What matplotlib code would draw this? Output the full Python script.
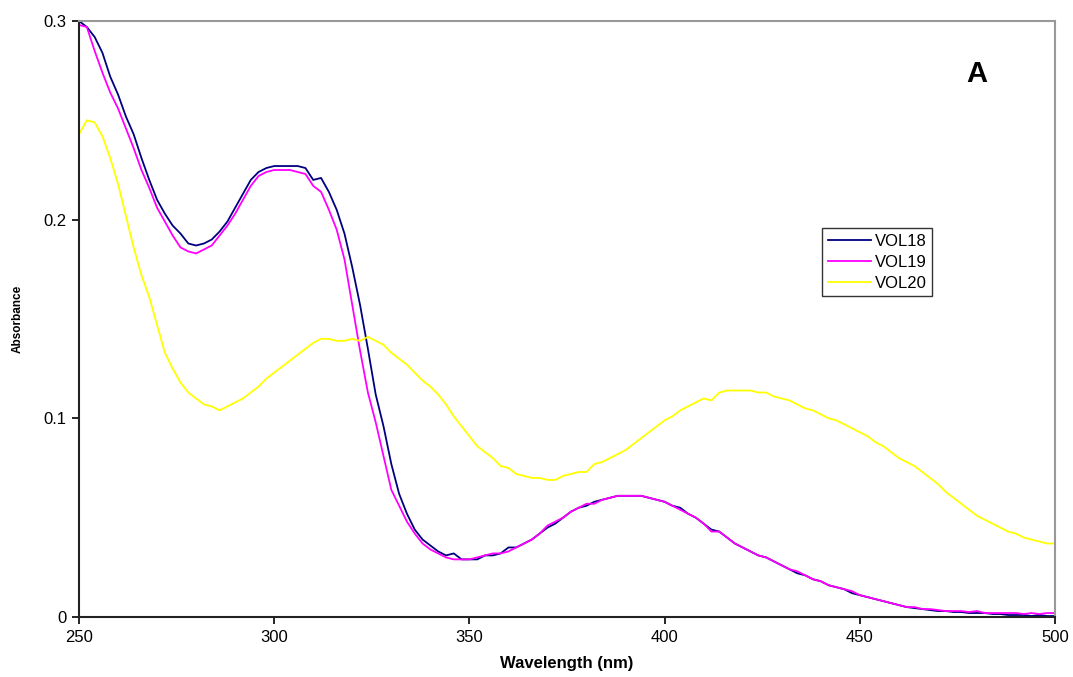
import numpy as np
import matplotlib
matplotlib.use("Agg")
import matplotlib.pyplot as plt

plt.rcParams['font.family'] = ['Liberation Sans', 'DejaVu Sans']

# Wavelength grid (nm)
wavelength = list(range(250, 502, 2))

# Absorbance spectra
vol18 = [
    0.300, 0.297, 0.292, 0.284, 0.272, 0.263, 0.252, 0.243, 0.231, 0.220,
    0.210, 0.203, 0.197, 0.193, 0.188, 0.187, 0.188, 0.190, 0.194, 0.199,
    0.206, 0.213, 0.220, 0.224, 0.226, 0.227, 0.227, 0.227, 0.227, 0.226,
    0.220, 0.221, 0.214, 0.205, 0.193, 0.176, 0.157, 0.135, 0.112, 0.096,
    0.077, 0.062, 0.052, 0.044, 0.039, 0.036, 0.033, 0.031, 0.032, 0.029,
    0.029, 0.029, 0.031, 0.031, 0.032, 0.035, 0.035, 0.037, 0.039, 0.042,
    0.045, 0.047, 0.050, 0.053, 0.055, 0.056, 0.058, 0.059, 0.060, 0.061,
    0.061, 0.061, 0.061, 0.060, 0.059, 0.058, 0.056, 0.055, 0.052, 0.050,
    0.047, 0.044, 0.043, 0.040, 0.037, 0.035, 0.033, 0.031, 0.030, 0.028,
    0.026, 0.024, 0.022, 0.021, 0.019, 0.018, 0.016, 0.015, 0.014, 0.012,
    0.011, 0.010, 0.009, 0.008, 0.007, 0.006, 0.005, 0.0045, 0.004, 0.0035,
    0.003, 0.003, 0.0025, 0.0025, 0.002, 0.002, 0.002, 0.0015, 0.0015, 0.001,
    0.001, 0.001, 0.0005, 0.001, 0.0005, 0.0005,
]

vol19 = [
    0.298, 0.297, 0.285, 0.274, 0.264, 0.256, 0.246, 0.236, 0.225, 0.216,
    0.206, 0.199, 0.192, 0.186, 0.184, 0.183, 0.185, 0.187, 0.192, 0.197,
    0.203, 0.210, 0.217, 0.222, 0.224, 0.225, 0.225, 0.225, 0.224, 0.223,
    0.217, 0.214, 0.205, 0.195, 0.180, 0.157, 0.134, 0.113, 0.098, 0.081,
    0.064, 0.056, 0.048, 0.042, 0.037, 0.034, 0.032, 0.030, 0.029, 0.029,
    0.029, 0.030, 0.031, 0.032, 0.032, 0.033, 0.035, 0.037, 0.039, 0.042,
    0.046, 0.048, 0.050, 0.053, 0.055, 0.057, 0.057, 0.059, 0.060, 0.061,
    0.061, 0.061, 0.061, 0.060, 0.059, 0.058, 0.056, 0.054, 0.052, 0.050,
    0.047, 0.043, 0.043, 0.040, 0.037, 0.035, 0.033, 0.031, 0.030, 0.028,
    0.026, 0.024, 0.023, 0.021, 0.019, 0.018, 0.016, 0.015, 0.014, 0.013,
    0.011, 0.010, 0.009, 0.008, 0.007, 0.006, 0.005, 0.005, 0.004, 0.004,
    0.0035, 0.003, 0.003, 0.003, 0.0025, 0.003, 0.002, 0.002, 0.002, 0.002,
    0.002, 0.0015, 0.002, 0.0015, 0.002, 0.002,
]

vol20 = [
    0.243, 0.250, 0.249, 0.242, 0.231, 0.218, 0.202, 0.186, 0.172, 0.161,
    0.147, 0.133, 0.125, 0.118, 0.113, 0.110, 0.107, 0.106, 0.104, 0.106,
    0.108, 0.110, 0.113, 0.116, 0.120, 0.123, 0.126, 0.129, 0.132, 0.135,
    0.138, 0.140, 0.140, 0.139, 0.139, 0.140, 0.139, 0.141, 0.139, 0.137,
    0.133, 0.130, 0.127, 0.123, 0.119, 0.116, 0.112, 0.107, 0.101, 0.096,
    0.091, 0.086, 0.083, 0.080, 0.076, 0.075, 0.072, 0.071, 0.070, 0.070,
    0.069, 0.069, 0.071, 0.072, 0.073, 0.073, 0.077, 0.078, 0.080, 0.082,
    0.084, 0.087, 0.090, 0.093, 0.096, 0.099, 0.101, 0.104, 0.106, 0.108,
    0.110, 0.109, 0.113, 0.114, 0.114, 0.114, 0.114, 0.113, 0.113, 0.111,
    0.110, 0.109, 0.107, 0.105, 0.104, 0.102, 0.100, 0.099, 0.097, 0.095,
    0.093, 0.091, 0.088, 0.086, 0.083, 0.080, 0.078, 0.076, 0.073, 0.070,
    0.067, 0.063, 0.060, 0.057, 0.054, 0.051, 0.049, 0.047, 0.045, 0.043,
    0.042, 0.040, 0.039, 0.038, 0.037, 0.037,
]

series = [("VOL18", vol18, "#000080"),
          ("VOL19", vol19, "#FF00FF"),
          ("VOL20", vol20, "#FFFF00")]

x_ticks = [250, 300, 350, 400, 450, 500]
y_ticks = [0, 0.1, 0.2, 0.3]
y_tick_labels = ["0", "0.1", "0.2", "0.3"]

fig = plt.figure(figsize=(10.73, 6.77), dpi=100)
ax = fig.add_axes([79 / 1073, 60 / 677, (1055 - 79) / 1073, (617 - 21) / 677])

for name, values, color in series:
    ax.plot(wavelength, values, color=color, lw=1.3, label=name)

ax.set_xlim(250, 500)
ax.set_ylim(0, 0.3)
ax.set_xticks(x_ticks)
ax.set_xticklabels([str(t) for t in x_ticks])
ax.set_yticks(y_ticks)
ax.set_yticklabels(y_tick_labels)
ax.tick_params(direction='out', length=5, width=1.2, labelsize=12, colors='#000000', pad=4)

for side in ('left', 'bottom'):
    ax.spines[side].set_color('#222222')
    ax.spines[side].set_linewidth(1.5)
for side in ('top', 'right'):
    ax.spines[side].set_color('#999999')
    ax.spines[side].set_linewidth(1.5)

ax.set_xlabel("Wavelength (nm)", fontsize=12, fontweight='bold', labelpad=8)
ax.set_ylabel("Absorbance", fontsize=8.5, fontweight='bold', labelpad=14)

ax.text(977 / 1073, 1 - 74 / 677, "A", transform=fig.transFigure, fontsize=21,
        fontweight='bold', ha='center', va='center')

leg = ax.legend(loc='upper left', bbox_to_anchor=(822 / 1073, 1 - 228 / 677),
                bbox_transform=fig.transFigure, frameon=True, fancybox=False,
                fontsize=12, handlelength=2.6, handletextpad=0.2,
                borderpad=0.35, labelspacing=0.35, borderaxespad=0)
leg.get_frame().set_edgecolor('#000000')
leg.get_frame().set_linewidth(1.0)

fig.savefig("out.png", dpi=100)
